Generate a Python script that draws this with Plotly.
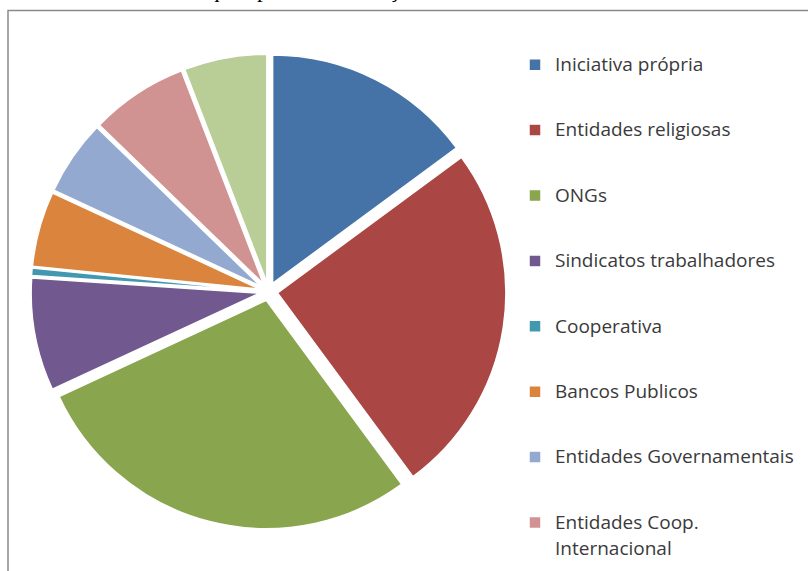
import plotly.graph_objects as go

# Entities supporting the creation of the funds (counts per entity)
labels = [
    "Iniciativa própria",
    "Entidades religiosas",
    "ONGs",
    "Sindicatos trabalhadores",
    "Cooperativa",
    "Bancos Publicos",
    "Entidades Governamentais",
    "Entidades Coop.<br>Internacional",
    "Outros",
]
values = [28, 47, 53, 15, 1, 10, 10, 13, 11]
colors = [
    "#4572A7", "#AA4643", "#89A54E", "#71588F", "#4198AF",
    "#DB843D", "#93A9CF", "#D19392", "#B9CD96",
]
title_text = "Gráfico 3 – Entidades que apoiaram a criação dos FRs."

W, H = 808, 700  # page is taller than the window; the lower part is cut off
LABEL_SIZE = 19


def px_x(p):
    return p / W


def px_y(p):
    return 1 - p / H


def legend_label(lab):
    # blank lines above/below spread the entries out; the label itself is set larger
    lines = lab.split("<br>")
    first = "<span style='font-size:%dpx'>%s</span>" % (LABEL_SIZE, lines[0])
    if len(lines) == 1:
        return " <br>" + first + "<br> "
    # continuation line: nudged down a little for more generous line spacing
    second = (
        "<span style='font-size:28px'><sub><span style='font-size:%dpx'>%s</span></sub></span>"
        % (LABEL_SIZE, lines[1])
    )
    return " <br>" + first + "<br>" + second


legend_labels = [legend_label(lab) for lab in labels]

fig = go.Figure(
    go.Pie(
        labels=legend_labels,
        values=values,
        sort=False,
        direction="clockwise",
        rotation=0,
        pull=[0.04] * len(values),
        textinfo="none",
        hoverinfo="value+percent",
        marker=dict(colors=colors, line=dict(color="white", width=1.5)),
        domain=dict(x=[px_x(31), px_x(506)], y=[px_y(529), px_y(54)]),
        showlegend=True,
    )
)

fig.update_layout(
    width=W,
    height=H,
    margin=dict(l=0, r=0, t=0, b=0),
    paper_bgcolor="white",
    plot_bgcolor="white",
    legend=dict(
        x=px_x(515),
        xanchor="left",
        y=px_y(27),
        yanchor="top",
        font=dict(family="Open Sans, Noto Sans, sans-serif", size=16, color="#3a3a3a"),
        bgcolor="rgba(0,0,0,0)",
        itemclick=False,
        itemdoubleclick=False,
        valign="middle",
    ),
    shapes=[
        dict(
            type="rect",
            xref="paper", yref="paper",
            x0=px_x(8), x1=1.3, y0=-0.3, y1=px_y(10.5),
            line=dict(color="#8a8a8a", width=1.5),
            fillcolor="rgba(0,0,0,0)",
            layer="below",
        )
    ],
    annotations=[
        dict(
            text=title_text,
            xref="paper", yref="paper",
            x=px_x(-1), y=px_y(4),
            xanchor="left", yanchor="bottom",
            showarrow=False,
            font=dict(family="Liberation Serif, Times New Roman, serif", size=23, color="black"),
        )
    ],
)

fig.write_html(
    "out.html",
    post_script=(
        "document.documentElement.style.overflow='hidden';"
        "document.body.style.overflow='hidden';"
        "document.body.style.margin='0';"
    ),
)
